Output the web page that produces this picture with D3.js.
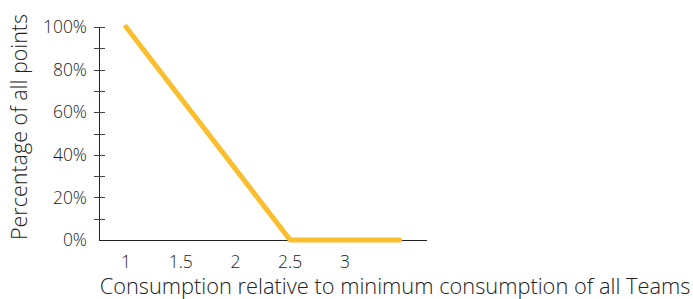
<!DOCTYPE html>
<html>
<head>
<meta charset="utf-8">
<script src="https://cdn.jsdelivr.net/npm/d3@7"></script>
<style>
  body { margin: 0; background: white; }
  text { font-family: "Open Sans", sans-serif; fill: #222; font-weight: 300; }
</style>
</head>
<body>
<div id="chart"></div>
<script>
// Data
const consumption = [1, 2.5, 3.5];
const pointsShare = [1, 0, 0];
const xTickValues = [1, 1.5, 2, 2.5, 3];
const yTickValues = [0, 0.2, 0.4, 0.6, 0.8, 1];
const yMinorTicks = [0.1, 0.3, 0.5, 0.7, 0.9];

const width = 693, height = 299;

const svg = d3.select("#chart").append("svg")
    .attr("width", width)
    .attr("height", height);

const x = d3.scaleLinear()
    .domain([0.753, 3.75])
    .range([99, 427]);

const y = d3.scaleLinear()
    .domain([0, 1])
    .range([240, 27]);

// y axis line
svg.append("line")
    .attr("x1", 99.5).attr("x2", 99.5)
    .attr("y1", y(0)).attr("y2", y(1))
    .attr("stroke", "#222").attr("stroke-width", 1);

// x axis line
svg.append("line")
    .attr("x1", x.range()[0]).attr("x2", x.range()[1])
    .attr("y1", y(0) + 0.5).attr("y2", y(0) + 0.5)
    .attr("stroke", "#222").attr("stroke-width", 1);

// y ticks crossing the axis
svg.selectAll(".ytick")
    .data(yTickValues.concat(yMinorTicks).filter(d => d > 0))
    .enter().append("line")
    .attr("x1", 94).attr("x2", 105)
    .attr("y1", d => Math.round(y(d)) + 0.5).attr("y2", d => Math.round(y(d)) + 0.5)
    .attr("stroke", "#444").attr("stroke-width", 1);

svg.selectAll(".ylabel")
    .data(yTickValues)
    .enter().append("text")
    .attr("x", 87)
    .attr("y", d => y(d))
    .attr("dy", "0.35em")
    .attr("text-anchor", "end")
    .attr("font-size", 17.5)
    .text(d3.format(".0%"));

svg.selectAll(".xlabel")
    .data(xTickValues)
    .enter().append("text")
    .attr("x", d => x(d))
    .attr("y", 268)
    .attr("text-anchor", "middle")
    .attr("font-size", 17.5)
    .text(d => d);

// axis titles
svg.append("text")
    .attr("x", 395)
    .attr("y", 294)
    .attr("text-anchor", "middle")
    .attr("font-size", 21.8)
    .text("Consumption relative to minimum consumption of all Teams");

svg.append("text")
    .attr("transform", `translate(27, 127) rotate(-90)`)
    .attr("text-anchor", "middle")
    .attr("font-size", 21.5)
    .text("Percentage of all points");

// the line
const line = d3.line()
    .x((d, i) => x(consumption[i]))
    .y(d => y(d));

svg.append("path")
    .datum(pointsShare)
    .attr("d", line)
    .attr("fill", "none")
    .attr("stroke", "#FBBE2E")
    .attr("stroke-width", 5)
    .attr("stroke-linecap", "round")
    .attr("stroke-linejoin", "round");
</script>
</body>
</html>
